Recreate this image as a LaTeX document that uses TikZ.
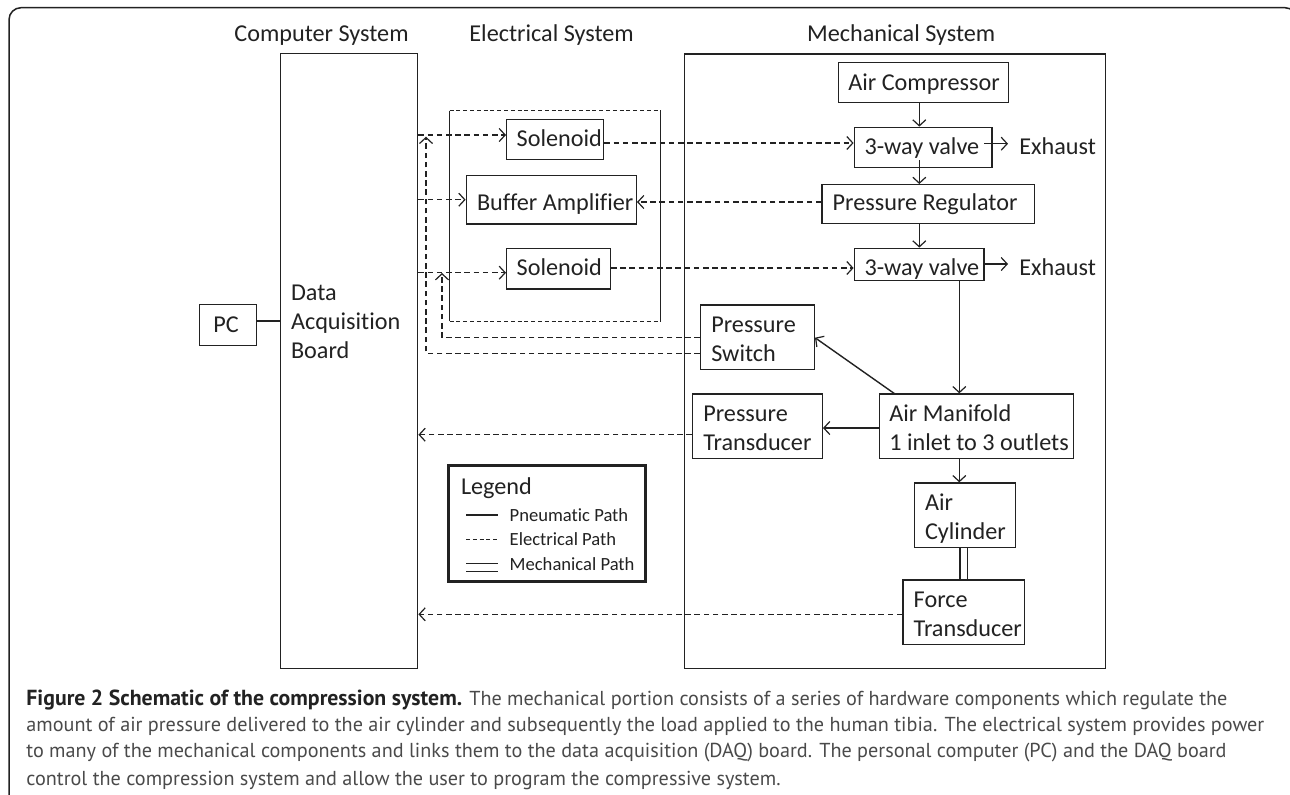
\documentclass[tikz,border=0pt]{standalone}
\usepackage{fontspec}
\setmainfont[Ligatures=NoCommon]{Carlito}
\newfontfamily\capfont{PT Sans}
\usetikzlibrary{arrows.meta}
\definecolor{ink}{HTML}{222222}
\definecolor{captxt}{HTML}{4A4A4A}
\definecolor{capbold}{HTML}{222222}
\newcommand\diafont{\fontsize{12.1}{14.6}\selectfont}
\tikzset{
  box/.style={draw=ink,line width=0.7pt,inner sep=0pt,font=\diafont,text=ink},
  lbl/.style={inner sep=0pt,font=\diafont,text=ink,anchor=base west},
  lgd/.style={inner sep=0pt,font=\fontsize{9.3}{12}\selectfont,text=ink,anchor=base west},
  barb/.tip={Straight Barb[length=3pt,width=6.5pt,line width=0.6pt]},
  pneu/.style={draw=ink,line width=0.7pt,-{barb}},
  plain/.style={draw=ink,line width=0.7pt},
  elec/.style={draw=ink,line width=0.65pt,dash pattern=on 2.8pt off 1.8pt},
  eleca/.style={elec,-{barb}},
  encl/.style={draw=ink,line width=0.6pt,dash pattern=on 2pt off 1.4pt},
  capline/.style={inner sep=0pt,anchor=base west,text=captxt,font=\capfont\fontsize{10.1}{12}\selectfont},
}
% name, x1, y1, x2, y2, text x, first baseline y, \hbox lines
\newcommand\bx[8]{%
  \pgfmathsetmacro\bxw{(#4-#2)*0.5}%
  \pgfmathsetmacro\bxh{(#5-#3)*0.5}%
  \pgfmathsetmacro\bxdx{(#6-(#2+#4)/2)*0.5}%
  \pgfmathsetmacro\bxdy{((#3+#5)/2-#7)*0.5}%
  \node[box,minimum width=\bxw pt,minimum height=\bxh pt,anchor=center] (#1) at ({(#2+#4)/2},{(#3+#5)/2})
    {\hbox to 0pt{\kern\bxdx pt\raisebox{\bxdy pt}[0pt][0pt]{\vtop{#8}}\hss}};%
}
\begin{document}
\begin{tikzpicture}[x=0.5pt,y=-0.5pt]
\useasboundingbox (0,0) rectangle (1290,794);
\fill[white] (0,0) rectangle (1290,794);
% outer frame
\draw[ink,line width=0.75pt,rounded corners=6pt] (9,800) -- (9,7.7) -- (1297,7.7) -- (1297,800);
% titles
\node[lbl] (tc) at (234,41.7) {Computer System};
\node[lbl] (te) at (469,41.7) {Electrical System};
\node[lbl] (tm) at (806.7,41.7) {Mechanical System};
% big boxes
\bx{pc}{199.3}{304.7}{256.7}{345.7}{213.3}{332.3}{\hbox{PC}}
\bx{daq}{280.3}{53.5}{417.7}{668.5}{291}{300}{\hbox{Data}\hbox{Acquisition}\hbox{Board}}
\bx{mech}{684.7}{54}{1105.5}{668.5}{700}{60}{}
% electrical enclosure
\node[inner sep=0pt,minimum width=105.15pt,minimum height=105pt] (encl) at (555.15,216) {};
\draw[encl] (encl.north west) -- (encl.north east);
\draw[encl] (encl.south west) -- (encl.south east);
\draw[plain,line width=0.6pt] (encl.north west) -- (encl.south west);
\draw[plain,line width=0.6pt] (encl.north east) -- (encl.south east);
% electrical
\bx{solA}{506.7}{119.3}{603.7}{159.3}{516.7}{146}{\hbox{Solenoid}}
\bx{buf}{466.3}{175.7}{636.3}{224}{477}{210.7}{\hbox{Buffer Amplifier}}
\bx{solB}{506.7}{248.3}{610.3}{289}{516.7}{275.3}{\hbox{Solenoid}}
% mechanical
\bx{comp}{838.3}{62.3}{1008.3}{102.7}{848.3}{90}{\hbox{Air Compressor}}
\bx{valA}{854.3}{127.3}{992}{167.3}{864.5}{154.3}{\hbox{3-way valve}}
\bx{reg}{822}{184.7}{1034.7}{223.7}{832.7}{210.7}{\hbox{Pressure Regulator}}
\bx{valB}{854.3}{248.3}{984}{280.7}{864.5}{275.3}{\hbox{3-way valve}}
\bx{sw}{700.7}{305}{814.3}{369.7}{711.3}{332.3}{\hbox{Pressure}\hbox{Switch}}
\bx{pt}{692.7}{394}{822.3}{458.7}{703.3}{421}{\hbox{Pressure}\hbox{Transducer}}
\bx{man}{879.3}{394}{1073.3}{458.7}{889.3}{421}{\hbox{Air Manifold}\hbox{1 inlet to 3 outlets}}
\bx{cyl}{914.3}{483}{1015.3}{547.7}{925}{510.7}{\hbox{Air}\hbox{Cylinder}}
\bx{ft}{903}{580}{1024.3}{644.7}{913.7}{607.3}{\hbox{Force}\hbox{Transducer}}
\node[lbl] (exA) at (1019,154.3) {Exhaust};
\node[lbl] (exB) at (1019,275.3) {Exhaust};
% free ends
\coordinate (valAout) at (919.3,160);
\coordinate (valAex) at (984,143.7);
\coordinate (exAin) at (1008,143.7);
\coordinate (valBex) at (984,264);
\coordinate (exBin) at (1008,264);
\coordinate (manTL) at (895,394);
\coordinate (bendA) at (442,337.3);
\coordinate (bendAtip) at (442,273);
\coordinate (bendB) at (426,353.3);
\coordinate (bendBtip) at (426,136.7);
% PC link
\draw[plain] (pc.east |- 0,321) -- (daq.west |- 0,321);
% pneumatic
\draw[pneu] (comp.south -| 919.3,0) -- (valA.north -| 919.3,0);
\draw[pneu] (valAout) -- (reg.north -| valAout);
\draw[pneu] (reg.south -| 919.3,0) -- (valB.north -| 919.3,0);
\draw[pneu] (valAex) -- (exAin);
\draw[pneu] (valBex) -- (exBin);
\draw[pneu] (valB.south -| 959.3,0) -- (man.north -| 959.3,0);
\draw[pneu] (manTL) -- (sw.east |- 0,337.7);
\draw[pneu] (man.west |- 0,428) -- (pt.east |- 0,428);
\draw[pneu] (man.south -| 959.3,0) -- (cyl.north -| 959.3,0);
% mechanical
\draw[plain] (cyl.south -| 960,0) -- (ft.north -| 960,0);
\draw[plain] (cyl.south -| 967.3,0) -- (ft.north -| 967.3,0);
% electrical paths
\draw[eleca] (daq.east |- 0,135) -- (solA.west |- 0,135);
\draw[eleca] (daq.east |- 0,199.7) -- (buf.west |- 0,199.7);
\draw[eleca] (daq.east |- 0,272.7) -- (solB.west |- 0,272.7);
\draw[eleca] (solA.east |- 0,143) -- (valA.west |- 0,143);
\draw[eleca] (reg.west |- 0,202) -- (buf.east |- 0,202);
\draw[eleca] (solB.east |- 0,268) -- (valB.west |- 0,268);
\draw[eleca] (sw.west |- bendA) -- (bendA) -- (bendAtip);
\draw[eleca] (sw.west |- bendB) -- (bendB) -- (bendBtip);
\draw[eleca] (pt.west |- 0,434.7) -- (daq.east |- 0,434.7);
\draw[eleca] (ft.west |- 0,614.3) -- (daq.east |- 0,614.3);
% legend
\bx{leg}{449.3}{466}{644.7}{580.3}{461}{494}{\hbox{Legend}}
\draw[ink,line width=1.5pt] (leg.north west) rectangle (leg.south east);
\node[lgd] (lgA) at (509.3,521.7) {Pneumatic Path};
\node[lgd] (lgB) at (509.3,545.7) {Electrical Path};
\node[lgd] (lgC) at (509.3,570) {Mechanical Path};
\coordinate (ll) at (466,0);
\coordinate (lr) at (498.3,0);
\draw[plain] (ll |- 0,515) -- (lr |- 0,515);
\draw[plain,dash pattern=on 2pt off 1.4pt] (ll |- 0,539.3) -- (lr |- 0,539.3);
\draw[plain] (ll |- 0,563.3) -- (lr |- 0,563.3);
\draw[plain] (ll |- 0,571.7) -- (lr |- 0,571.7);
% caption
\node[capline] (capA) at (26,705) {{\bfseries\fontsize{10.9}{12}\selectfont\color{capbold}Figure 2 Schematic of the compression system.} The mechanical portion consists of a series of hardware components which regulate the};
\node[capline] (capB) at (26,731) {amount of air pressure delivered to the air cylinder and subsequently the load applied to the human tibia. The electrical system provides power};
\node[capline] (capC) at (26,757.7) {to many of the mechanical components and links them to the data acquisition (DAQ) board. The personal computer (PC) and the DAQ board};
\node[capline] (capD) at (26,785) {control the compression system and allow the user to program the compressive system.};
\end{tikzpicture}
\end{document}
